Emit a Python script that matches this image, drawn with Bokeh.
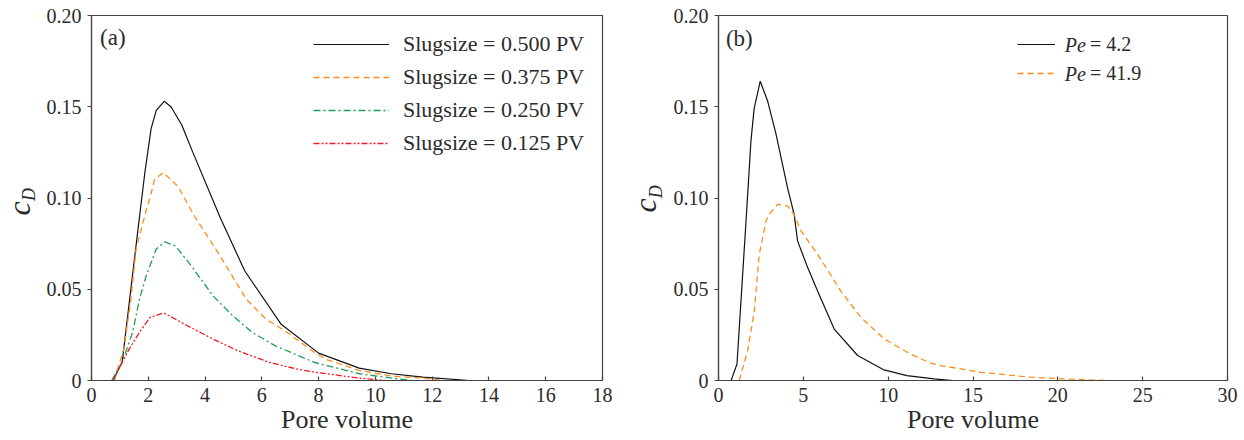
import math
from bokeh.plotting import figure
from bokeh.layouts import row
from bokeh.models import Range1d, FixedTicker, Legend, LegendItem, Label
from bokeh.embed import file_html
from bokeh.resources import INLINE

# ---------------- data: panel (a) ----------------
x_slug_500 = [0.75, 1.08, 1.5, 1.88, 2.1, 2.28, 2.56, 2.8, 3.18, 3.57, 4.54, 5.40, 6.67, 8.0, 9.43, 10.56, 11.67, 13.33]
y_slug_500 = [0.0, 0.010, 0.065, 0.114, 0.138, 0.148, 0.153, 0.150, 0.140, 0.125, 0.089, 0.060, 0.031, 0.015, 0.0068, 0.0037, 0.0018, 0.0]

x_slug_375 = [0.8, 0.9, 1.14, 1.39, 1.57, 1.94, 2.06, 2.22, 2.53, 3.06, 3.63, 4.54, 5.45, 6.14, 6.89, 7.84, 8.28, 9.43, 10.56, 11.69, 12.4]
y_slug_375 = [0.0, 0.0055, 0.0173, 0.0446, 0.072, 0.094, 0.100, 0.110, 0.114, 0.106, 0.090, 0.068, 0.0446, 0.0337, 0.0264, 0.0155, 0.0115, 0.0055, 0.0024, 0.0013, 0.0]

x_slug_250 = [0.71, 1.08, 1.45, 1.69, 1.94, 2.28, 2.58, 2.96, 3.52, 4.28, 4.97, 5.66, 6.46, 7.84, 8.28, 9.43, 10.35, 11.25]
y_slug_250 = [0.0, 0.010, 0.0264, 0.0446, 0.058, 0.072, 0.0760, 0.0737, 0.0627, 0.0464, 0.0355, 0.0264, 0.0191, 0.010, 0.0082, 0.0037, 0.0018, 0.0]

x_slug_125 = [0.77, 0.96, 1.33, 1.69, 2.06, 2.55, 3.38, 4.28, 5.14, 6.25, 7.2, 7.84, 8.28, 9.43, 10.35]
y_slug_125 = [0.0, 0.0064, 0.0173, 0.0264, 0.0346, 0.0370, 0.030, 0.0227, 0.0164, 0.010, 0.0064, 0.0046, 0.0037, 0.0013, 0.0]

slug_labels = ["Slugsize = 0.500 PV", "Slugsize = 0.375 PV", "Slugsize = 0.250 PV", "Slugsize = 0.125 PV"]

# ---------------- data: panel (b) ----------------
x_pe_42 = [0.74, 1.09, 1.62, 1.91, 2.1, 2.46, 2.9, 3.39, 4.07, 4.46, 4.66, 5.25, 5.84, 6.82, 8.2, 9.76, 11.1, 12.7, 13.8]
y_pe_42 = [0.0, 0.009, 0.087, 0.131, 0.149, 0.164, 0.153, 0.135, 0.1056, 0.091, 0.0765, 0.062, 0.049, 0.0282, 0.0137, 0.0058, 0.0027, 0.0009, 0.0]

x_pe_419 = [1.22, 1.72, 2.11, 2.4, 2.8, 2.99, 3.49, 4.07, 4.46, 4.86, 5.84, 7.21, 8.39, 9.76, 11.3, 12.5, 13.1, 15.46, 18.4, 20.8, 22.8]
y_pe_419 = [0.0, 0.0164, 0.038, 0.069, 0.0874, 0.091, 0.0966, 0.0956, 0.091, 0.082, 0.0692, 0.049, 0.0346, 0.0228, 0.0146, 0.0095, 0.0082, 0.0045, 0.0018, 0.0007, 0.0]

pe_values = ["= 4.2", "= 41.9"]

x_ticks_a = [0, 2, 4, 6, 8, 10, 12, 14, 16, 18]
x_ticks_b = [0, 5, 10, 15, 20, 25, 30]
y_ticks = [0, 0.05, 0.10, 0.15, 0.20]
y_tick_labels = ["0", "0.05", "0.10", "0.15", "0.20"]

FONT = "Liberation Serif, Times New Roman, serif"
TXT = "#2b2b2b"
FRAME = "#444444"

BLACK = "#111111"
ORANGE = "#ff8c1a"
GREEN = "#1f9e5a"
RED = "#ee1c25"

H = 440


def style(p, xticks):
    p.xaxis.ticker = FixedTicker(ticks=xticks)
    p.yaxis.ticker = FixedTicker(ticks=y_ticks)
    p.yaxis.major_label_overrides = {t: s for t, s in zip(y_ticks, y_tick_labels)}
    p.xgrid.visible = False
    p.ygrid.visible = False
    for ax in (p.xaxis[0], p.yaxis[0]):
        ax.axis_line_color = FRAME
        ax.axis_line_width = 1.2
        ax.major_tick_line_color = FRAME
        ax.major_tick_line_width = 1.2
        ax.minor_tick_line_color = None
        ax.major_label_text_font = FONT
        ax.major_label_text_font_size = "20px"
        ax.major_label_text_color = TXT
    p.xaxis.major_tick_in = 4
    p.xaxis.major_tick_out = 0
    p.xaxis.major_label_standoff = 7
    p.yaxis.major_tick_in = 0
    p.yaxis.major_tick_out = 4
    p.yaxis.major_label_standoff = 6
    p.xaxis.axis_label = "Pore volume"
    p.xaxis.axis_label_text_font = FONT
    p.xaxis.axis_label_text_font_size = "26px"
    p.xaxis.axis_label_text_font_style = "normal"
    p.xaxis.axis_label_text_color = TXT
    p.xaxis.axis_label_standoff = 0
    p.outline_line_color = FRAME
    p.outline_line_width = 1.2
    p.outline_line_alpha = 1.0
    p.background_fill_color = "white"
    p.border_fill_color = "white"


def label_strip(width, c_pos, d_pos):
    # narrow text-only figure holding the rotated y-axis label c_D
    s = figure(width=width, height=H, output_backend="svg", toolbar_location=None,
               x_range=Range1d(0, width), y_range=Range1d(0, H),
               x_axis_type=None, y_axis_type=None,
               min_border=0, min_border_left=0, min_border_right=0,
               min_border_top=0, min_border_bottom=0)
    s.grid.visible = False
    s.outline_line_color = None
    s.background_fill_color = "white"
    s.border_fill_color = "white"
    s.add_layout(Label(x=c_pos[0], y=c_pos[1], text="c", text_font=FONT, text_font_size="32px",
                       text_font_style="italic", text_color=TXT, angle=math.pi / 2,
                       text_align="center", text_baseline="middle"))
    s.add_layout(Label(x=d_pos[0], y=d_pos[1], text="D", text_font=FONT, text_font_size="18px",
                       text_font_style="italic", text_color=TXT, angle=math.pi / 2,
                       text_align="center", text_baseline="middle"))
    return s


# ---------------- panel (a) ----------------
strip_a = label_strip(40, (18.0, 207.4), (28.5, 224.1))

p1 = figure(width=580, height=H, output_backend="svg", toolbar_location=None,
            x_range=Range1d(0, 18), y_range=Range1d(0, 0.2),
            min_border_left=51, min_border_right=18, min_border_top=15, min_border_bottom=59)
style(p1, x_ticks_a)

r1 = p1.line(x_slug_500, y_slug_500, line_color=BLACK, line_width=1.2)
r2 = p1.line(x_slug_375, y_slug_375, line_color=ORANGE, line_width=1.3, line_dash="6 4")
r3 = p1.line(x_slug_250, y_slug_250, line_color=GREEN, line_width=1.3, line_dash="7 3 2 3")
r4 = p1.line(x_slug_125, y_slug_125, line_color=RED, line_width=1.3, line_dash="6 2 2 2 2 2")

leg1 = Legend(items=[LegendItem(label=l, renderers=[r]) for l, r in zip(slug_labels, [r1, r2, r3, r4])],
              location=(222, 224), padding=0, margin=0, spacing=7,
              glyph_width=76, glyph_height=26, label_height=26, label_standoff=14,
              label_text_font=FONT, label_text_font_size="22px", label_text_color=TXT,
              border_line_color=None, background_fill_alpha=0)
p1.add_layout(leg1)

p1.add_layout(Label(x=0.3, y=0.1878, text="(a)", text_font=FONT, text_font_size="23px",
                    text_color=TXT, text_baseline="alphabetic"))

# ---------------- panel (b) ----------------
strip_b = label_strip(48, (24.0, 211.0), (35.0, 227.5))

p2 = figure(width=576, height=H, output_backend="svg", toolbar_location=None,
            x_range=Range1d(0, 30), y_range=Range1d(0, 0.2),
            min_border_left=50, min_border_right=17, min_border_top=14, min_border_bottom=60)
style(p2, x_ticks_b)

s1 = p2.line(x_pe_42, y_pe_42, line_color=BLACK, line_width=1.2)
s2 = p2.line(x_pe_419, y_pe_419, line_color=ORANGE, line_width=1.3, line_dash="6 4")

leg2 = Legend(items=[LegendItem(label=l, renderers=[r]) for l, r in zip(pe_values, [s1, s2])],
              location=(299, 295), padding=0, margin=0, spacing=5,
              glyph_width=38, glyph_height=24, label_height=24, label_standoff=35,
              label_text_font=FONT, label_text_font_size="20px", label_text_color=TXT,
              border_line_color=None, background_fill_alpha=0)
p2.add_layout(leg2)

for yy in (0.1836, 0.1678):
    p2.add_layout(Label(x=20.41, y=yy, text="Pe", text_font=FONT, text_font_size="20px",
                        text_font_style="italic", text_color=TXT, text_baseline="middle"))

p2.add_layout(Label(x=0.44, y=0.1872, text="(b)", text_font=FONT, text_font_size="23px",
                    text_color=TXT, text_baseline="alphabetic"))

layout = row(strip_a, p1, strip_b, p2)
open("out.html", "w").write(file_html(layout, INLINE))
